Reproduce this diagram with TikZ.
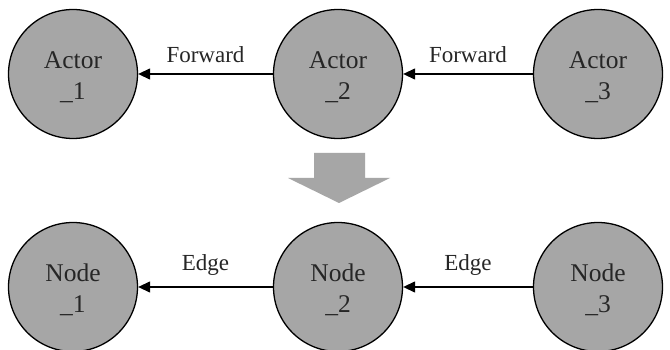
\documentclass[tikz,border=0pt]{standalone}
\usepackage{fontspec}
\setmainfont{Liberation Serif}
\usetikzlibrary{arrows.meta}
\definecolor{nodegray}{HTML}{A6A6A6}
\definecolor{txt}{HTML}{262626}
\begin{document}
\begin{tikzpicture}[x=1pt,y=-1pt,
  circ/.style={circle,draw=black,line width=1.3pt,fill=nodegray,minimum size=129pt,inner sep=0pt},
  ctext/.style={align=center,text=txt,inner sep=0pt,yshift=-3pt,font=\fontsize{25.5}{31}\selectfont},
  conn/.style={line width=1.3pt,-{Triangle[length=12pt,width=11pt]}},
  lbl/.style={font=\fontsize{23}{28}\selectfont,text=txt,inner sep=0pt}]
\useasboundingbox (0,0) rectangle (670,350);
\fill[white] (0,0) rectangle (670,350);
\node[circ,label={[ctext]center:Actor\\\_1}] (a1) at (73,74) {};
\node[circ,label={[ctext]center:Actor\\\_2}] (a2) at (338,74) {};
\node[circ,label={[ctext]center:Actor\\\_3}] (a3) at (598,74) {};
\draw[conn] (a2) -- (a1) node[lbl,midway,above=11pt] {Forward};
\draw[conn] (a3) -- (a2) node[lbl,midway,above=11pt] {Forward};
\node[circ,label={[ctext]center:Node\\\_1}] (n1) at (73,287) {};
\node[circ,label={[ctext]center:Node\\\_2}] (n2) at (338,287) {};
\node[circ,label={[ctext]center:Node\\\_3}] (n3) at (598,287) {};
\draw[conn] (n2) -- (n1) node[lbl,midway,above=11pt] {Edge};
\draw[conn] (n3) -- (n2) node[lbl,midway,above=11pt] {Edge};
\fill[nodegray] (314,153) -- (365,153) -- (365,178) -- (390,178) -- (339,203) -- (288,178) -- (314,178) -- cycle;
\end{tikzpicture}
\end{document}
